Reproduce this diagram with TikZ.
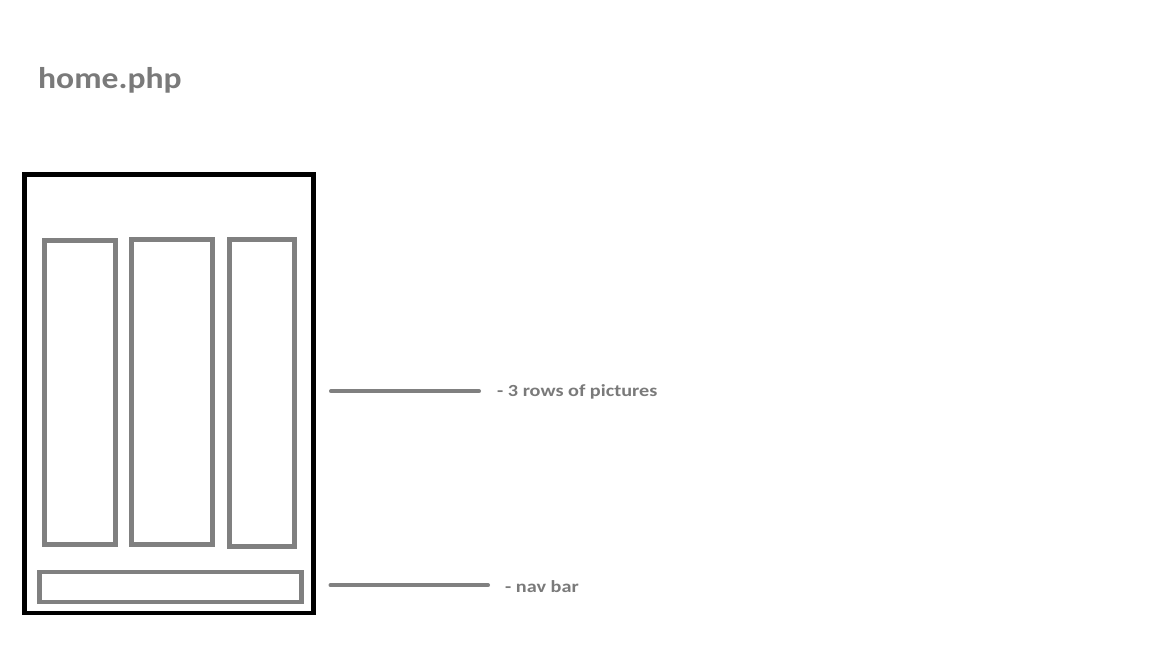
\documentclass[tikz,border=0pt]{standalone}
\usepackage{fontspec}
\setmainfont{Carlito}
\newfontfamily\headfont[FakeStretch=1.12]{Carlito}
\newfontfamily\notefont[FakeStretch=1.19]{Carlito}
\definecolor{linegray}{HTML}{808080}
\definecolor{textgray}{HTML}{7A7A7A}
\tikzset{
  panel/.style={draw=linegray, line width=4.3pt},
  frame/.style={draw=black, line width=4.6pt},
  leader/.style={draw=linegray, line width=4pt, line cap=round},
  note/.style={text=textgray, font=\notefont\bfseries\fontsize{17}{20}\selectfont, anchor=base west, inner sep=0pt},
  heading/.style={text=textgray, font=\headfont\bfseries\fontsize{30}{35}\selectfont, anchor=base west, inner sep=0pt}
}
\begin{document}
\begin{tikzpicture}[x=1pt,y=-1pt]
  \useasboundingbox (0,0) rectangle (1152,648);
  \fill[white] (0,0) rectangle (1152,648);
  \node[heading] (title) at (38,88) {home.php};
  % phone frame
  \draw[frame] (24.5,174.5) rectangle (313.5,613);
  % picture columns
  \draw[panel] (44.5,240.5) rectangle (115.5,544.5);
  \draw[panel] (131.5,239.5) rectangle (212.5,544.5);
  \draw[panel] (229.5,239.5) rectangle (294.5,546.5);
  % nav bar
  \draw[panel] (39.5,571.7) rectangle (301.5,602.3);
  % leaders and labels
  \coordinate (l1a) at (331,391.3);
  \coordinate (l1b) at (479,391.3);
  \coordinate (l2a) at (330.5,585.3);
  \coordinate (l2b) at (488,585.3);
  \draw[leader] (l1a) -- (l1b);
  \draw[leader] (l2a) -- (l2b);
  \node[note] (rows) at (497,396) {- 3 rows of pictures};
  \node[note] (nav) at (505,592.5) {- nav bar};
\end{tikzpicture}
\end{document}
